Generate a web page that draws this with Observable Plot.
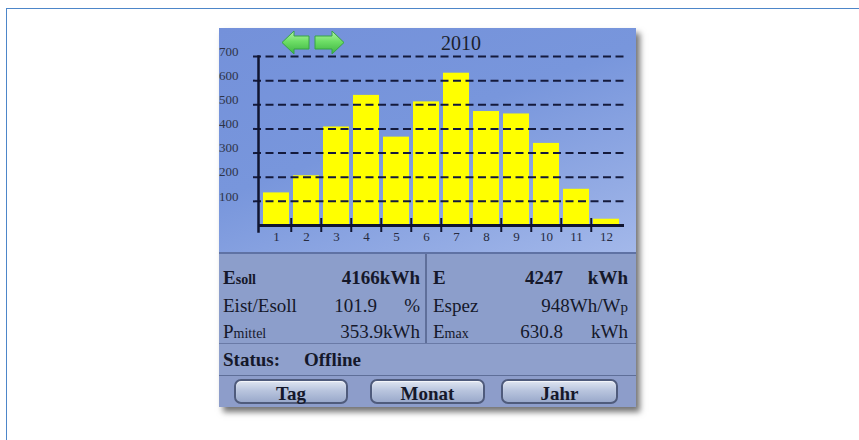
<!DOCTYPE html>
<html>
<head>
<meta charset="utf-8">
<script src="https://cdn.jsdelivr.net/npm/d3@7"></script>
<script src="https://cdn.jsdelivr.net/npm/@observablehq/plot@0.6"></script>
<style>
  html, body { margin: 0; padding: 0; background: #ffffff; width: 859px; height: 440px; overflow: hidden; }
  body { position: relative; font-family: "Liberation Serif", serif; color: #15182a; }
  #frame { position: absolute; left: 6px; top: 8px; width: 900px; height: 500px; border-left: 1.5px solid #4d86c9; border-top: 1.5px solid #4d86c9; }
  #widget { position: absolute; left: 219px; top: 28px; width: 417px; height: 379px; box-shadow: 4px 5px 6px rgba(0,0,0,0.55); overflow: hidden; }
  #chart { position: absolute; left: 0; top: 0; width: 417px; height: 224px;
    background: linear-gradient(160deg, #7491da 0%, #7896dc 45%, #93abe4 80%, #a3b8ea 100%); }
  #chart > svg.plot { position: absolute; left: 0; top: 0; }
  #title { position: absolute; left: 222px; top: 4px; width: 40px; text-align: center; font-size: 20px; line-height: 22px; color: #1c1f2e; }
  #arrows { position: absolute; left: 62px; top: 2px; }
  #data { position: absolute; left: 0; top: 224px; width: 417px; height: 91px; background: #8c9ecb; border-top: 2px solid #5f72a4; box-sizing: border-box; }
  #vdiv { position: absolute; left: 206px; top: 0; width: 1.5px; height: 91px; background: #5f6f9a; }
  #status { position: absolute; left: 0; top: 315px; width: 417px; height: 32px; background: #8fa0cc; border-top: 1.5px solid #6a7aa6; box-sizing: border-box; }
  #buttons { position: absolute; left: 0; top: 347px; width: 417px; height: 32px; background: #8d9dca; border-top: 1.5px solid #5e6e98; box-sizing: border-box; }
  .t { position: absolute; font-size: 19px; line-height: 19px; white-space: nowrap; }
  .b { font-weight: bold; }
  .sm { font-size: 14px; }
  .btn { position: absolute; top: 3px; height: 25px; border: 2px solid #4f5b7c; border-radius: 7px; box-sizing: border-box;
    background: linear-gradient(180deg, #dfe5f1 0%, #b9c5de 45%, #9aa9cb 100%); box-shadow: inset 0 1px 1px rgba(255,255,255,0.7);
    text-align: center; font-weight: bold; font-size: 19px; line-height: 25px; color: #15182a; }
</style>
</head>
<body>
<div id="frame"></div>
<div id="widget">
  <div id="chart">
    <div id="title"></div>
    <svg id="arrows" width="66" height="26" viewBox="0 0 66 26">
      <defs>
        <linearGradient id="g" x1="0" y1="0" x2="0" y2="1">
          <stop offset="0" stop-color="#b4f4aa"/>
          <stop offset="0.45" stop-color="#6ede66"/>
          <stop offset="1" stop-color="#3cb442"/>
        </linearGradient>
      </defs>
      <polygon points="1,12.5 13,1 13,6 28,6 28,19 13,19 13,24" fill="url(#g)" stroke="#37a444" stroke-width="1"/>
      <polygon points="63,12.5 51,1 51,6 34,6 34,19 51,19 51,24" fill="url(#g)" stroke="#37a444" stroke-width="1"/>
    </svg>
  </div>
  <div id="data"><div id="vdiv"></div></div>
  <div id="status"></div>
  <div id="buttons"></div>
</div>
<script>
// ---- data ----
const year = "2010";
const months = [1, 2, 3, 4, 5, 6, 7, 8, 9, 10, 11, 12];
const energyKWh = [135, 206, 408, 539, 366, 512, 630.8, 472, 462, 340, 150, 26];
const yTicks = [100, 200, 300, 400, 500, 600, 700];
const leftLabels = ["Esoll", "Eist/Esoll", "Pmittel"];
const leftValues = ["4166", "101.9", "353.9"];
const leftUnits = ["kWh", "%", "kWh"];
const rightLabels = ["E", "Espez", "Emax"];
const rightValues = ["4247", "948", "630.8"];
const rightUnits = ["kWh", "Wh/Wp", "kWh"];
const statusLabel = "Status:";
const statusValue = "Offline";
const buttonLabels = ["Tag", "Monat", "Jahr"];

const rows = months.map((m, i) => ({month: m, kwh: energyKWh[i]}));

// ---- chart ----
const W = 417, H = 224, ML = 39, MR = 12, MT = 28, MB = 27;
const step = (W - ML - MR) / months.length;
const ink = "#101530";

const chart = Plot.plot({
  width: W, height: H,
  marginLeft: ML, marginRight: MR, marginTop: MT, marginBottom: MB,
  style: {background: "transparent", fontFamily: "Liberation Serif", overflow: "visible"},
  x: {type: "band", domain: months, paddingInner: 0.14, paddingOuter: 0.07, axis: null, label: null},
  y: {domain: [0, 700], axis: null, label: null},
  marks: [
    Plot.barY(rows, {x: "month", y: "kwh", fill: "#ffff00"}),
    Plot.ruleY(yTicks, {stroke: "#141a3c", strokeWidth: 2, strokeDasharray: "8,4.5", insetLeft: -5}),
    Plot.ruleY([0], {stroke: ink, strokeWidth: 3}),
    Plot.frame({anchor: "left", stroke: ink, strokeWidth: 2.5, insetBottom: -6}),
    Plot.ruleX(months.slice(1), {x: d => d, dx: -step / 2, y1: 0, y2: 0, insetTop: -7, insetBottom: -7, stroke: ink, strokeWidth: 2}),
    Plot.text(yTicks, {y: d => d, text: d => String(d), frameAnchor: "left", textAnchor: "end", dx: -20, dy: -5, fontSize: 13, fill: "#2e3448"}),
    Plot.text(months, {x: d => d, text: d => String(d), frameAnchor: "bottom", lineAnchor: "middle", dy: 11, fontSize: 13, fill: "#262b40"})
  ]
});
document.getElementById("chart").prepend(chart);
document.getElementById("title").textContent = year;

// ---- info panel ----
function span(parent, html, left, top, cls, alignRight) {
  const s = document.createElement("div");
  s.className = "t " + (cls || "");
  s.innerHTML = html;
  s.style.top = top + "px";
  if (alignRight) { s.style.right = (417 - left) + "px"; }
  else { s.style.left = left + "px"; }
  parent.appendChild(s);
  return s;
}
function bigFirst(label) {
  return label.replace(/^(E|P)(soll|mittel|max)$/, '$1<span class="sm">$2</span>');
}
const data = document.getElementById("data");
const rowTops = [14, 42, 68];
leftLabels.forEach((l, i) => {
  const bold = i === 0 ? "b" : "";
  span(data, bigFirst(l), 4, rowTops[i], bold);
  if (i === 1) {
    span(data, leftValues[i], 158, rowTops[i], "", true);
    span(data, leftUnits[i], 201, rowTops[i], "", true);
  } else {
    span(data, leftValues[i] + leftUnits[i], 201, rowTops[i], bold, true);
  }
});
rightLabels.forEach((l, i) => {
  const bold = i === 0 ? "b" : "";
  span(data, bigFirst(l), 214, rowTops[i], bold);
  if (i === 1) {
    span(data, rightValues[i] + "Wh/W<span style='font-size:15px'>p</span>", 409, rowTops[i], "", true);
  } else {
    span(data, rightValues[i], 344, rowTops[i], bold, true);
    span(data, rightUnits[i], 409, rowTops[i], bold, true);
  }
});
const st = document.getElementById("status");
span(st, statusLabel, 4, 6, "b");
span(st, statusValue, 85, 6, "b");

const bt = document.getElementById("buttons");
const btnX = [[15, 129], [151, 266], [282, 399]];
buttonLabels.forEach((b, i) => {
  const d = document.createElement("div");
  d.className = "btn";
  d.style.left = btnX[i][0] + "px";
  d.style.width = (btnX[i][1] - btnX[i][0]) + "px";
  d.textContent = b;
  bt.appendChild(d);
});
</script>
</body>
</html>
